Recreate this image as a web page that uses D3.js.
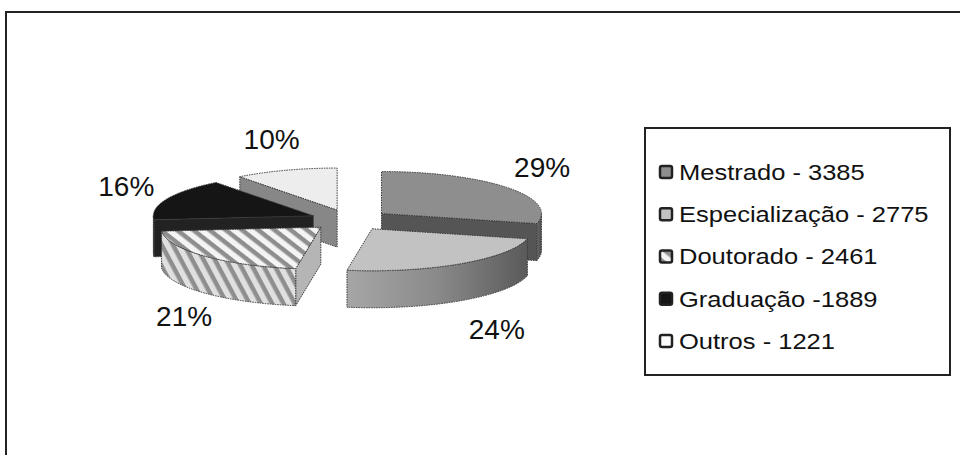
<!DOCTYPE html>
<html>
<head>
<meta charset="utf-8">
<script src="https://cdn.jsdelivr.net/npm/d3@7"></script>
<style>
  body { margin: 0; background: #fff; }
  svg { display: block; }
  text { font-family: "Liberation Sans", Arial, sans-serif; fill: #111; }
</style>
</head>
<body>
<div id="chart"></div>
<script>
// data
const categories = ['Mestrado', 'Especialização', 'Doutorado', 'Graduação', 'Outros'];
const values = [3385, 2775, 2461, 1889, 1221];
const legendLabels = ['Mestrado - 3385', 'Especialização - 2775', 'Doutorado - 2461', 'Graduação -1889', 'Outros - 1221'];

const width = 960, height = 455;
const cx = 350, cy = 220;       // pie centre
const rx = 160, ry = 42;        // ellipse radii of top face
const depth = 37;               // thickness
const explode = 40;

// per slice shading: top face, outer wall, radial face
const styles = [
    { top: '#8e8e8e', wall: 'url(#gMes)', face: '#555555' },
    { top: '#c2c2c2', wall: 'url(#gEsp)', face: '#8a8a8a' },
    { top: 'url(#stripeTop)', wall: 'url(#stripeWall)', face: '#b5b5b5' },
    { top: '#151515', wall: '#1a1a1a', face: '#222' },
    { top: '#ededed', wall: '#9a9a9a', face: '#878787' }
];

const svg = d3.select('#chart').append('svg')
    .attr('width', width)
    .attr('height', height);

const defs = svg.append('defs');

function gradient(id, stops) {
    const g = defs.append('linearGradient').attr('id', id)
        .attr('x1', 0).attr('x2', 1).attr('y1', 0).attr('y2', 0);
    stops.forEach((c, i) => g.append('stop')
        .attr('offset', i / (stops.length - 1)).attr('stop-color', c));
}
gradient('gEsp', ['#a6a6a6', '#8a8a8a', '#5a5a5a']);
gradient('gMes', ['#6a6a6a', '#4c4c4c']);

function stripes(id, angle, bg) {
    const p = defs.append('pattern').attr('id', id)
        .attr('patternUnits', 'userSpaceOnUse')
        .attr('width', 10).attr('height', 10)
        .attr('patternTransform', `rotate(${angle})`);
    p.append('rect').attr('width', 10).attr('height', 10).attr('fill', bg);
    p.append('rect').attr('width', 10).attr('height', 4.5).attr('fill', '#8e8e8e');
}
stripes('stripeTop', 38, '#f4f4f4');
stripes('stripeWall', 62, '#e0e0e0');

// outer frame, runs off the right and bottom edge
svg.append('rect')
    .attr('x', 6).attr('y', 12)
    .attr('width', 1000).attr('height', 500)
    .attr('fill', 'none')
    .attr('stroke', '#222')
    .attr('stroke-width', 2);

const total = d3.sum(values);
const pie = d3.pie().sort(null).value(d => d);
const arcs = pie(values).map((a, i) => {
    const mid = (a.startAngle + a.endAngle) / 2;
    return {
        i,
        a0: a.startAngle,
        a1: a.endAngle,
        mid,
        dx: explode * Math.sin(mid),
        dy: -explode * (ry / rx) * Math.cos(mid),
        pct: Math.round(a.value / total * 100)
    };
});

const pt = (s, t, h = 0) => [
    cx + s.dx + rx * Math.sin(t),
    cy + s.dy - ry * Math.cos(t) + h
];

function topPath(s) {
    const o = [cx + s.dx, cy + s.dy];
    const p0 = pt(s, s.a0), p1 = pt(s, s.a1);
    const large = s.a1 - s.a0 > Math.PI ? 1 : 0;
    return `M${o}L${p0}A${rx},${ry} 0 ${large} 1 ${p1}Z`;
}

function wallPath(s) {
    const t0 = Math.max(s.a0, Math.PI / 2);
    const t1 = Math.min(s.a1, Math.PI * 1.5);
    if (t1 <= t0) return null;
    const p0 = pt(s, t0), p1 = pt(s, t1);
    const q0 = pt(s, t0, depth), q1 = pt(s, t1, depth);
    return `M${p0}A${rx},${ry} 0 0 1 ${p1}L${q1}A${rx},${ry} 0 0 0 ${q0}Z`;
}

function facePath(s, t) {
    const o = [cx + s.dx, cy + s.dy];
    const ob = [o[0], o[1] + depth];
    const p = pt(s, t), pb = pt(s, t, depth);
    return `M${o}L${p}L${pb}L${ob}Z`;
}

// back slices first
const order = arcs.slice().sort((a, b) => Math.cos(b.mid) - Math.cos(a.mid));

const gPie = svg.append('g');
order.forEach(s => {
    const st = styles[s.i];
    const g = gPie.append('g');
    const edge = sel => sel
        .attr('stroke', '#3a3a3a')
        .attr('stroke-width', 1)
        .attr('stroke-dasharray', '1.5,1')
        .attr('stroke-linejoin', 'round');

    // radial cut faces that look toward the viewer
    if (Math.cos(s.a0 - Math.PI / 2) < -0.01) {
        edge(g.append('path').attr('d', facePath(s, s.a0)).attr('fill', st.face));
    }
    if (Math.cos(s.a1 + Math.PI / 2) < -0.01) {
        edge(g.append('path').attr('d', facePath(s, s.a1)).attr('fill', st.face));
    }
    const w = wallPath(s);
    if (w) edge(g.append('path').attr('d', w).attr('fill', st.wall));
    edge(g.append('path').attr('d', topPath(s)).attr('fill', st.top));
});

// percentage labels, pushed out along each slice's bisector
const labR = 215, labRy = 75, labW = 58, labH = 22;
svg.append('g').selectAll('text')
    .data(arcs)
    .enter()
    .append('text')
    .attr('x', d => cx + (labR + labW / 2) * Math.sin(d.mid) + (Math.cos(d.mid) < 0 ? 12 : 0))
    .attr('y', d => cy - (labRy + labH / 2) * Math.cos(d.mid) + (Math.cos(d.mid) < 0 ? depth : 0))
    .attr('dy', '0.36em')
    .attr('text-anchor', 'middle')
    .style('font-size', '28px')
    .text(d => d.pct + '%');

// legend
const legX = 645, legY = 128, legW = 305, legH = 247;
const legend = svg.append('g');
legend.append('rect')
    .attr('x', legX).attr('y', legY)
    .attr('width', legW).attr('height', legH)
    .attr('fill', '#fff')
    .attr('stroke', '#222')
    .attr('stroke-width', 2);

const markFill = ['#8e8e8e', '#c2c2c2', 'url(#stripeTop)', '#151515', '#ffffff'];
const rowY = d3.scalePoint().domain(categories).range([legY + 44, legY + 213]);

const item = legend.selectAll('g.item')
    .data(categories)
    .enter()
    .append('g')
    .attr('class', 'item')
    .attr('transform', d => `translate(${legX + 15},${rowY(d)})`);

item.append('rect')
    .attr('x', 0).attr('y', -6)
    .attr('width', 12).attr('height', 12)
    .attr('rx', 2)
    .attr('fill', (d, i) => markFill[i])
    .attr('stroke', '#222')
    .attr('stroke-width', 2.5);

item.append('text')
    .attr('transform', 'translate(19,0) scale(1.16,1)')
    .attr('dy', '0.36em')
    .style('font-size', '22px')
    .text((d, i) => legendLabels[i]);
</script>
</body>
</html>
